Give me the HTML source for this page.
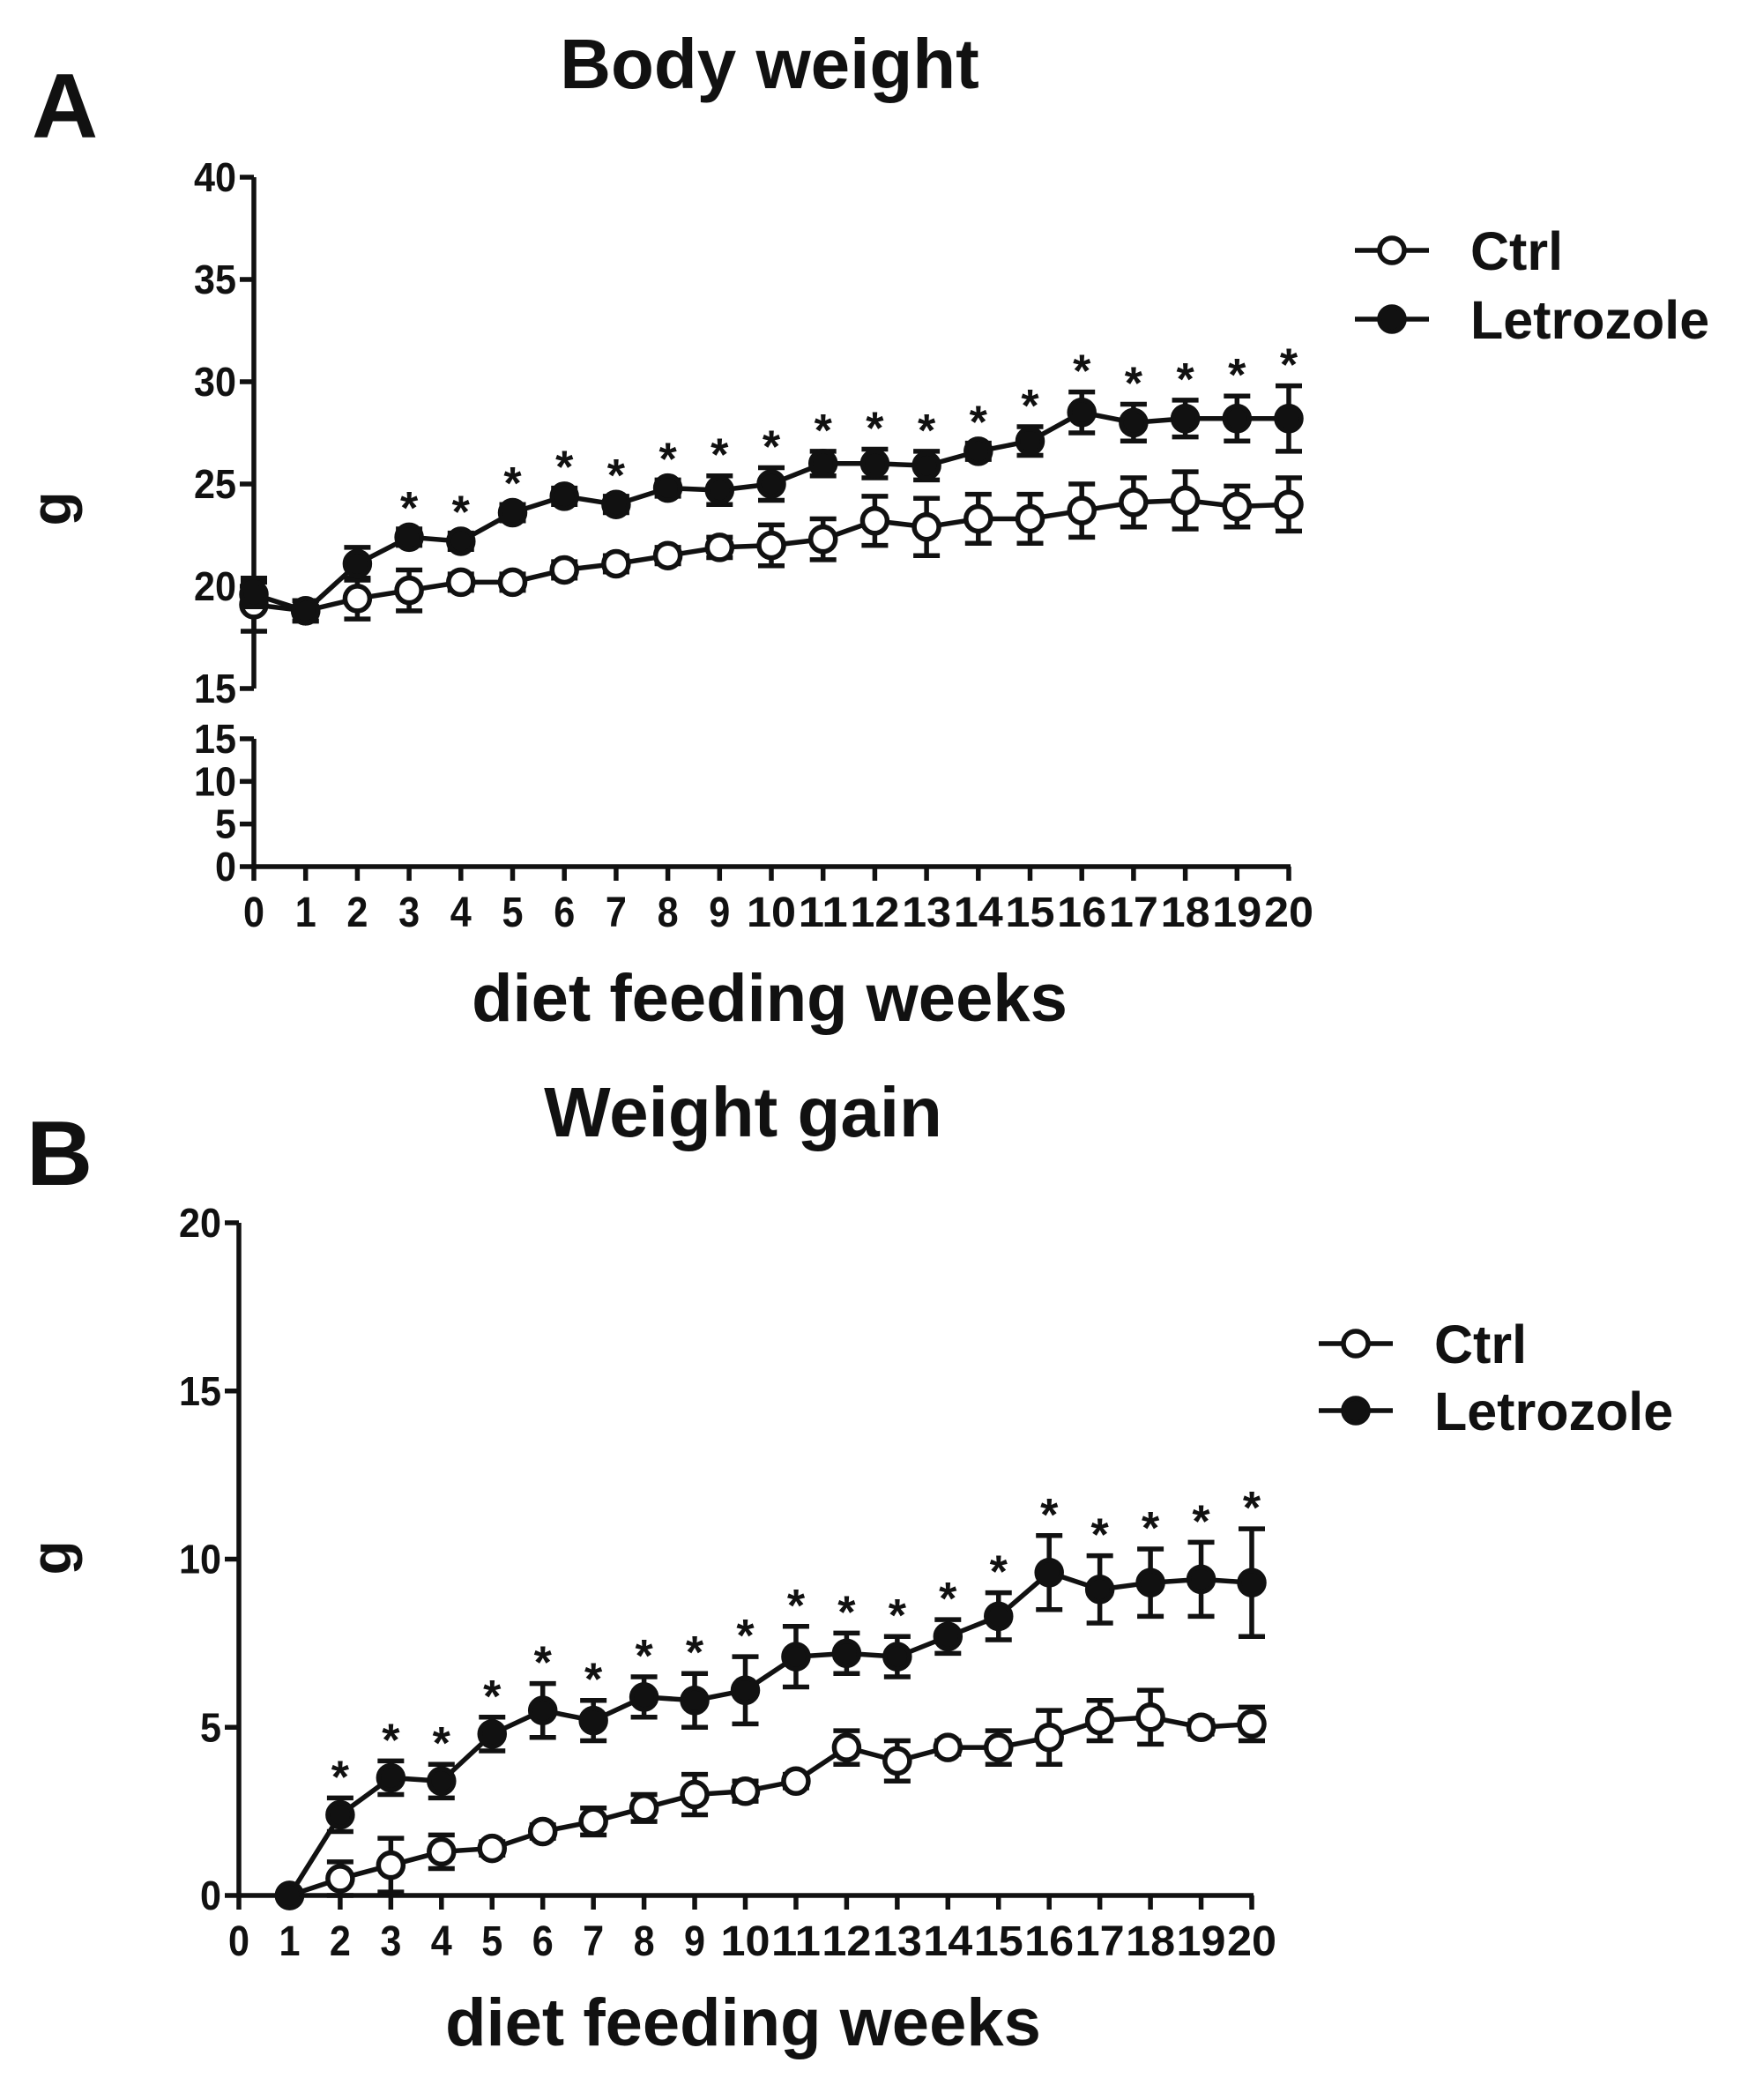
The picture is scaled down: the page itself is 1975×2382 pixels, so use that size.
<!DOCTYPE html>
<html><head><meta charset="utf-8"><style>
html,body{margin:0;padding:0;background:#fff}
svg{display:block}
text{font-family:"Liberation Sans",Arial,sans-serif;font-weight:bold;fill:#111}
</style></head>
<body>
<svg id="fig" width="1975" height="2382" viewBox="0 0 1975 2382" xmlns="http://www.w3.org/2000/svg">
<rect width="1975" height="2382" fill="#fff"/>
</svg>
<script>
// Panel A data
const weeksA = [0,1,2,3,4,5,6,7,8,9,10,11,12,13,14,15,16,17,18,19,20];
const ctrlA = [19.1,18.8,19.4,19.8,20.2,20.2,20.8,21.1,21.5,21.9,22.0,22.3,23.2,22.9,23.3,23.3,23.7,24.1,24.2,23.9,24.0];
const ctrlAErr = [1.3,0.5,1.0,1.0,0.4,0.4,0.4,0.4,0.4,0.5,1.0,1.0,1.2,1.4,1.2,1.2,1.3,1.2,1.4,1.0,1.3];
const letA = [19.6,18.8,21.1,22.4,22.2,23.6,24.4,24.0,24.8,24.7,25.0,26.0,26.0,25.9,26.6,27.1,28.5,28.0,28.2,28.2,28.2];
const letAErr = [0.6,0.5,0.8,0.4,0.4,0.4,0.4,0.4,0.4,0.7,0.8,0.6,0.7,0.7,0.4,0.7,1.0,0.9,0.9,1.1,1.6];
const starsA = [3,4,5,6,7,8,9,10,11,12,13,14,15,16,17,18,19,20];
const yTicksAUpper = [15,20,25,30,35,40];
const yTicksALower = [0,5,10,15];
// Panel B data
const weeksB = [1,2,3,4,5,6,7,8,9,10,11,12,13,14,15,16,17,18,19,20];
const ctrlB = [0,0.5,0.9,1.3,1.4,1.9,2.2,2.6,3.0,3.1,3.4,4.4,4.0,4.4,4.4,4.7,5.2,5.3,5.0,5.1];
const ctrlBErr = [0,0.5,0.8,0.5,0.2,0.2,0.4,0.4,0.6,0.3,0.2,0.5,0.6,0.2,0.5,0.8,0.6,0.8,0.2,0.5];
const letB = [0,2.4,3.5,3.4,4.8,5.5,5.2,5.9,5.8,6.1,7.1,7.2,7.1,7.7,8.3,9.6,9.1,9.3,9.4,9.3];
const letBErr = [0,0.5,0.5,0.5,0.5,0.8,0.6,0.6,0.8,1.0,0.9,0.6,0.6,0.5,0.7,1.1,1.0,1.0,1.1,1.6];
const starsB = [2,3,4,5,6,7,8,9,10,11,12,13,14,15,16,17,18,19,20];
const yTicksB = [0,5,10,15,20];
const xTicks = [0,1,2,3,4,5,6,7,8,9,10,11,12,13,14,15,16,17,18,19,20];

const NS="http://www.w3.org/2000/svg";
const svg=document.getElementById('fig');
function mk(tag,attrs,parent){const e=document.createElementNS(NS,tag);for(const k in attrs)e.setAttribute(k,attrs[k]);(parent||svg).appendChild(e);return e;}
function txt(s,x,y,size,anchor,parent){const t=mk('text',{x:x,y:y,'font-size':size,'text-anchor':anchor||'middle'},parent);t.textContent=s;return t;}
const SW=5.5;

function drawPanel(o){
  const g=mk('g',{});
  
  
  const xs=w=>o.x0+(o.x1-o.x0)*w/20;
  const ys=o.ys;
  const t=txt(o.title,o.titleX,o.titleY,80,'middle',g);
  
  
  const l=txt(o.letter,o.letterX,o.letterY,104,'start',g);
  
  
  const ax=mk('g',{stroke:'#111','stroke-width':SW,fill:'none'},g);
  
  
  o.yAxes.forEach(a=>{
    mk('line',{x1:o.x0,x2:o.x0,y1:a.top,y2:a.bottom},ax);
    a.ticks.forEach(v=>{
      const y=a.scale(v);
      mk('line',{x1:o.x0-16,x2:o.x0,y1:y,y2:y},ax);
      const tl=txt(String(v),o.x0-20,y+16,46,'end',g);
      tl.setAttribute('textLength',v>=10?48:24);
      tl.setAttribute('lengthAdjust','spacingAndGlyphs');
      
      
    });
  });
  mk('line',{x1:o.x0-2,x2:o.x1+2,y1:o.xAxisY,y2:o.xAxisY},ax);
  xTicks.forEach(w=>{
    mk('line',{x1:xs(w),x2:xs(w),y1:o.xAxisY,y2:o.xAxisY+16},ax);
    const tl=txt(String(w),xs(w),o.xAxisY+68,48,'middle',g);
    tl.setAttribute('textLength',w>=10?56:24);
    tl.setAttribute('lengthAdjust','spacingAndGlyphs');
    
    
  });
  const xt=txt('diet feeding weeks',o.xTitleX,o.xTitleY,76,'middle',g);
  
  
  const yt=txt('g',0,0,64,'middle',g);
  yt.setAttribute('transform','translate('+o.yTitleX+','+o.yTitleY+') rotate(-90)');
  
  
  o.series.forEach(s=>{
    const sg=mk('g',{},g);
    
    
    const pts=s.weeks.map((w,i)=>[xs(w),ys(s.vals[i])]);
    const pl=mk('polyline',{points:pts.map(p=>p.join(',')).join(' '),fill:'none',stroke:'#111','stroke-width':SW},sg);
    
    
    s.weeks.forEach((w,i)=>{
      const x=xs(w),v=s.vals[i],e=s.err[i];
      if(e>0){
        const eb=mk('path',{d:`M${x},${ys(v+e)}V${ys(v-e)}M${x-15},${ys(v+e)}H${x+15}M${x-15},${ys(v-e)}H${x+15}`,stroke:'#111','stroke-width':SW,fill:'none'},sg);
        
        
      }
      const c=mk('circle',{cx:x,cy:ys(v),r:14,fill:s.fill,stroke:'#111','stroke-width':SW},sg);
      
      
    });
  });
  const L=o.series[1];
  o.stars.forEach(w=>{
    const i=L.weeks.indexOf(w);
    const st=txt('*',xs(w),ys(L.vals[i]+L.err[i])-6,52,'middle',g);
    
    
  });
  const lg=mk('g',{},g);
  
  
  [['Ctrl','#fff',o.legY[0]],['Letrozole','#111',o.legY[1]]].forEach(r=>{
    const eg=mk('g',{},lg);
    
    
    mk('line',{x1:o.legX,x2:o.legX+84,y1:r[2],y2:r[2],stroke:'#111','stroke-width':SW},eg);
    mk('circle',{cx:o.legX+42,cy:r[2],r:14,fill:r[1],stroke:'#111','stroke-width':SW},eg);
    txt(r[0],o.legX+131,r[2]+22,61,'start',eg);
  });
}

const aUp=v=>781+(v-15)*(201-781)/25;
const aLo=v=>983+v*(838-983)/15;
drawPanel({name:'panel-a-body-weight',title:'Body weight',titleX:873,titleY:100,letter:'A',letterX:36,letterY:156,
  x0:288,x1:1462,xAxisY:983,ys:aUp,
  yAxes:[{top:201,bottom:781,ticks:yTicksAUpper,scale:aUp},{top:838,bottom:983,ticks:yTicksALower,scale:aLo}],
  xTitleX:873,xTitleY:1158,yTitleX:80,yTitleY:577,
  series:[{name:'ctrl-series',weeks:weeksA,vals:ctrlA,err:ctrlAErr,fill:'#fff'},{name:'letrozole-series',weeks:weeksA,vals:letA,err:letAErr,fill:'#111'}],
  stars:starsA,legX:1537,legY:[284,362]});
const bS=v=>2150+v*(1387-2150)/20;
drawPanel({name:'panel-b-weight-gain',title:'Weight gain',titleX:843,titleY:1289,letter:'B',letterX:30,letterY:1344,
  x0:271,x1:1420,xAxisY:2150,ys:bS,
  yAxes:[{top:1387,bottom:2150,ticks:yTicksB,scale:bS}],
  xTitleX:843,xTitleY:2320,yTitleX:80,yTitleY:1767,
  series:[{name:'ctrl-series',weeks:weeksB,vals:ctrlB,err:ctrlBErr,fill:'#fff'},{name:'letrozole-series',weeks:weeksB,vals:letB,err:letBErr,fill:'#111'}],
  stars:starsB,legX:1496,legY:[1524,1600]});
</script>
</body></html>
